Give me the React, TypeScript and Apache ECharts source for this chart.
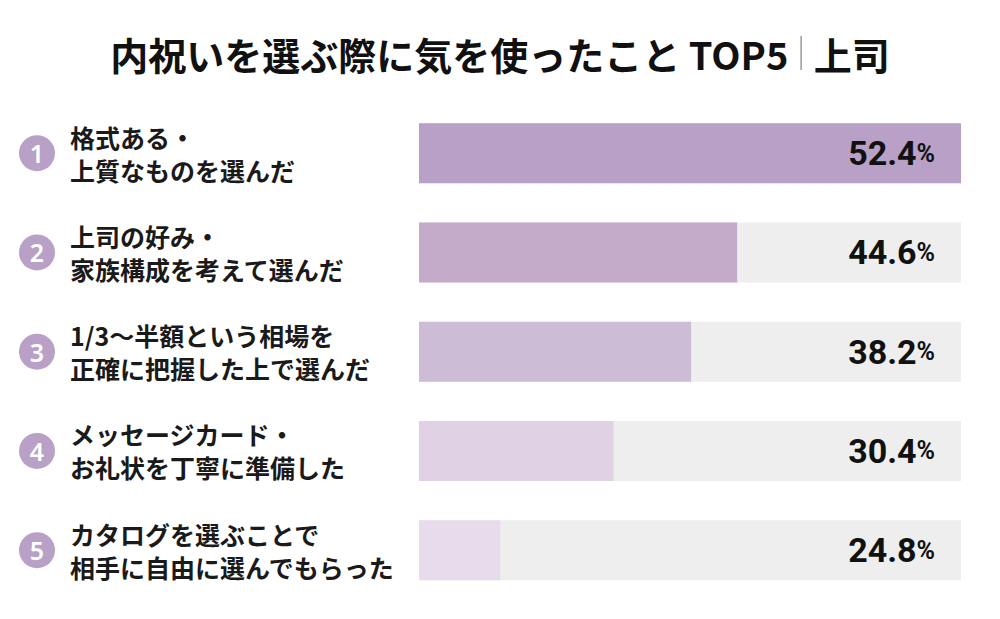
import React, { useEffect, useRef } from "react";
import * as echarts from "echarts";

const titleMain = "内祝いを選ぶ際に気を使ったこと TOP5";
const titleSub = "上司";
const categories = [
  "格式ある・\n上質なものを選んだ",
  "上司の好み・\n家族構成を考えて選んだ",
  "1/3～半額という相場を\n正確に把握した上で選んだ",
  "メッセージカード・\nお礼状を丁寧に準備した",
  "カタログを選ぶことで\n相手に自由に選んでもらった",
];
const ranks = ["1", "2", "3", "4", "5"];
const values = [52.4, 44.6, 38.2, 30.4, 24.8];
// bar length as drawn in the picture, in % of the grey track
const barLengths = [100, 58.7, 50.2, 35.9, 15.0];
const trackFull = [100, 100, 100, 100, 100];
const barColors = ["#b9a0c6", "#c4abca", "#cdbcd6", "#e0d2e4", "#e8dcec"];

const JP = '"Noto Sans CJK JP", "Noto Sans", sans-serif';
const NUM = '"Roboto", "Liberation Sans", sans-serif';

export default function App() {
  const ref = useRef<HTMLDivElement>(null);
  useEffect(() => {
    if (!ref.current) return;
    const chart = echarts.init(ref.current, undefined, { renderer: "svg" });
    chart.setOption({
      animation: false,
      backgroundColor: "#ffffff",
      title: {
        left: "center",
        top: 29,
        text: `{a|${titleMain}}{sp| }{bar| }{sp| }{a|${titleSub}}`,
        textStyle: {
          rich: {
            a: { fontFamily: JP, fontWeight: "bold", fontSize: 38, color: "#111111" },
            sp: { width: 12, fontSize: 20 },
            bar: { width: 1.5, height: 34, backgroundColor: "#9a9a9a", fontSize: 2 },
          },
        },
      },
      grid: { left: 419, right: 39, top: 103.6, bottom: 19.2 },
      xAxis: { type: "value", min: 0, max: 100, show: false },
      yAxis: [
        {
          type: "category",
          data: categories,
          inverse: true,
          position: "left",
          axisLine: { show: false },
          axisTick: { show: false },
          axisLabel: {
            align: "left",
            margin: 349,
            fontFamily: JP,
            fontWeight: "bold",
            fontSize: 25,
            lineHeight: 33,
            color: "#1a1a1a",
          },
        },
        {
          type: "category",
          data: ranks,
          inverse: true,
          position: "left",
          axisLine: { show: false },
          axisTick: { show: false },
          axisLabel: {
            margin: 382,
            align: "center",
            formatter: (v: string) => `{c|${v}}`,
            rich: {
              c: {
                width: 36,
                height: 36,
                lineHeight: 36,
                borderRadius: 18,
                backgroundColor: "#b9a0c6",
                color: "#ffffff",
                align: "center",
                fontFamily: '"Noto Sans", sans-serif',
                fontWeight: 600,
                fontSize: 25,
              },
            },
          },
        },
      ],
      series: [
        {
          type: "bar",
          yAxisIndex: 0,
          data: trackFull,
          barWidth: 60,
          barGap: "-100%",
          itemStyle: { color: "#eeeeee" },
          silent: true,
        },
        {
          type: "bar",
          yAxisIndex: 0,
          data: barLengths.map((v, i) => ({ value: v, itemStyle: { color: barColors[i] } })),
          barWidth: 60,
          barGap: "-100%",
        },
        {
          type: "bar",
          yAxisIndex: 0,
          data: trackFull,
          barWidth: 60,
          barGap: "-100%",
          itemStyle: { color: "rgba(0,0,0,0)" },
          label: {
            show: true,
            position: "insideRight",
            distance: 26,
            formatter: (p: any) => `{v|${values[p.dataIndex].toFixed(1)}}{p|%}`,
            rich: {
              v: { fontFamily: NUM, fontWeight: "bold", fontSize: 34, color: "#111111" },
              p: { fontFamily: NUM, fontWeight: "bold", fontSize: 25, color: "#111111" },
            },
          },
        },
      ],
    });
    return () => chart.dispose();
  }, []);
  return (
    <div
      ref={ref}
      style={{ position: "fixed", left: 0, top: 0, width: 1000, height: 619 }}
    />
  );
}
